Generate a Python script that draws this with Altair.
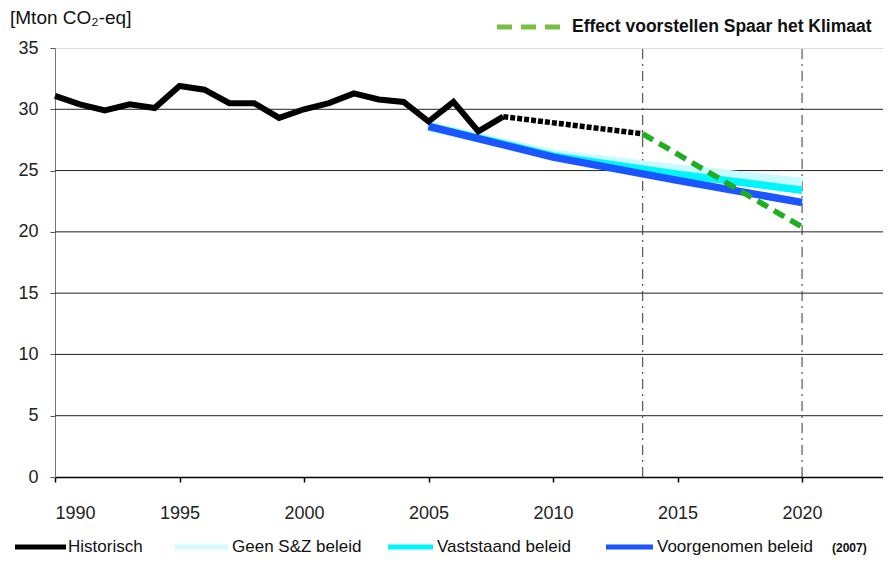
import altair as alt
import pandas as pd

# ---- data ----
hist_years = list(range(1990, 2009))
hist_values = [31.1, 30.4, 29.9, 30.4, 30.1, 31.9, 31.6, 30.5, 30.5, 29.3,
               30.0, 30.5, 31.3, 30.8, 30.6, 29.0, 30.6, 28.2, 29.4]

dotted_years = [2008, 2013.6]
dotted_values = [29.4, 28.0]

effect_years = [2013.6, 2020]
effect_values = [28.0, 20.4]

proj_years = [2005, 2010, 2015, 2020]
geen_values = [28.6, 26.3, 25.1, 24.0]
vaststaand_values = [28.6, 26.2, 24.7, 23.4]
voorgenomen_values = [28.6, 26.1, 24.2, 22.4]

grid_values = [5, 10, 15, 20, 25, 30]
marker_years = [2013.6, 2020]
x_ticks = [1990, 1995, 2000, 2005, 2010, 2015, 2020]
y_ticks = [0, 5, 10, 15, 20, 25, 30, 35]

FONT = "Liberation Sans, Arial, sans-serif"
W, H = 828, 429

xs = alt.Scale(domain=[1990, 2023.25], nice=False, zero=False)
ys = alt.Scale(domain=[0, 35], nice=False)

XAXIS = alt.Axis(values=x_ticks, format="d", grid=False, domainColor="#000",
                 domainWidth=1.5, tickColor="#000", tickSize=5, tickWidth=1.5,
                 labelFont=FONT, labelFontSize=18, labelColor="#222",
                 labelPadding=22, title=None)
YAXIS = alt.Axis(values=y_ticks, grid=False, domainColor="#777",
                 tickColor="#555", tickSize=5, labelFont=FONT,
                 labelFontSize=18, labelColor="#222", labelPadding=12, title=None)

def X(field):
    return alt.X(field, type="quantitative", scale=xs, axis=XAXIS)

def Y(field):
    return alt.Y(field, type="quantitative", scale=ys, axis=YAXIS)

def series(years, values, color, width, dash=None):
    df = pd.DataFrame({"year": years, "v": values})
    kw = dict(color=color, strokeWidth=width, clip=False)
    if dash:
        kw["strokeDash"] = dash
    return alt.Chart(df).mark_line(**kw).encode(x=X("year"), y=Y("v"))

grid = alt.Chart(pd.DataFrame({"v": grid_values})).mark_rule(color="#222", strokeWidth=1).encode(
    y=Y("v"), x=alt.value(0), x2=alt.value(W),
)

markers = alt.Chart(pd.DataFrame({"year": marker_years, "lo": [0, 0], "hi": [35, 35]})).mark_rule(
    color="#333", strokeWidth=1, strokeDash=[10, 5, 2, 5]).encode(
    x=X("year"), y=Y("lo"), y2="hi:Q",
)

lines = [
    series(proj_years, geen_values, "#c8fbff", 10),
    series(proj_years, vaststaand_values, "#00f5ff", 7.5),
    series(proj_years, voorgenomen_values, "#1a55ff", 7.5),
    series(hist_years, hist_values, "#000000", 6),
    series(dotted_years, dotted_values, "#000000", 5.5, [5, 2]),
    series(effect_years, effect_values, "#1fae1f", 5.5, [12, 7]),
]

one = pd.DataFrame({"a": [0]})

def swatch(x0, x1, y, color, width, dash=None):
    kw = dict(color=color, strokeWidth=width)
    if dash:
        kw["strokeDash"] = dash
    return alt.Chart(one).mark_rule(**kw).encode(
        x=alt.value(x0), x2=alt.value(x1), y=alt.value(y))

def label(x, y, text, size=17, weight="normal"):
    return alt.Chart(one).mark_text(align="left", baseline="middle", font=FONT,
                                    fontSize=size, fontWeight=weight, color="#111",
                                    text=text).encode(x=alt.value(x), y=alt.value(y))

LY = 499
legend = [
    label(-45, -30, "[Mton CO₂-eq]", 19),
    swatch(442, 505, -21, "#77c043", 5, [15, 9]),
    label(517, -21, "Effect voorstellen Spaar het Klimaat", 17.5, "bold"),
    swatch(-40, 11, LY, "#000000", 5),
    label(13, LY, "Historisch"),
    swatch(120, 173, LY, "#d4fcff", 5),
    label(177, LY, "Geen S&Z beleid"),
    swatch(333, 378, LY, "#00f5ff", 5),
    label(382, LY, "Vaststaand beleid"),
    swatch(551, 598, LY, "#1a55ff", 5),
    label(602, LY, "Voorgenomen beleid"),
    label(777, LY + 1, "(2007)", 12, "bold"),
]

chart = alt.layer(grid, markers, *lines, *legend).properties(
    width=W, height=H,
    autosize=alt.AutoSizeParams(type="none"),
    padding={"left": 47, "top": 40, "right": 0, "bottom": 80},
).configure_view(strokeWidth=0).configure(background="white")

chart.save("out.html", embed_options={"renderer": "svg", "actions": False})
